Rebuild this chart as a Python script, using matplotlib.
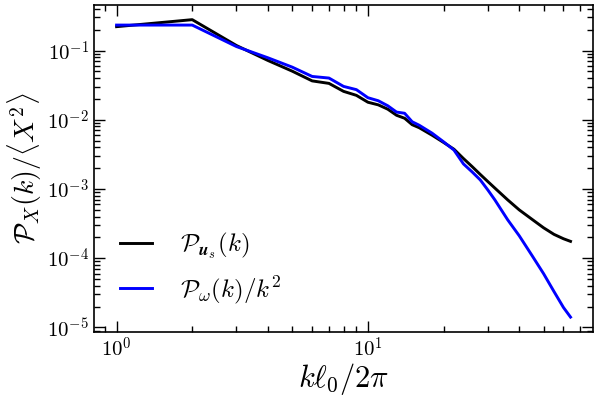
import numpy as np
import matplotlib
matplotlib.use("Agg")
import matplotlib.pyplot as plt
from matplotlib.ticker import FuncFormatter, NullFormatter

plt.rcParams['mathtext.fontset'] = 'cm'
plt.rcParams['font.family'] = 'serif'
plt.rcParams['font.serif'] = ['DejaVu Serif']

# spectres
k = [1, 2, 3, 4, 5, 6, 7, 8, 9, 10, 11, 12, 13, 14, 15, 16,
     18, 20, 22, 24, 26, 28, 30, 32, 36, 40, 45, 50, 55, 60, 64]
P_us = [0.221, 0.279, 0.118, 0.0718, 0.0503, 0.0364, 0.0335, 0.0257, 0.0225,
        0.0179, 0.0164, 0.0142, 0.0116, 0.0105, 0.00848, 0.00767,
        0.00598, 0.00470, 0.00375, 0.00275, 0.00210, 0.00162, 0.00128,
        0.00103, 0.000695, 0.000499, 0.000364, 0.000275, 0.000221,
        0.000191, 0.000175]
P_w = [0.233, 0.233, 0.114, 0.0785, 0.0575, 0.0422, 0.0400, 0.0303, 0.0272,
       0.0208, 0.0188, 0.0159, 0.0129, 0.0124, 0.00935, 0.00833,
       0.00640, 0.00480, 0.00365, 0.00230, 0.00176, 0.00135, 0.000968,
       0.000695, 0.000358, 0.000211, 0.000109, 5.98e-5, 3.3e-5,
       1.94e-5, 1.41e-5]

fig = plt.figure(figsize=(5.98, 3.99), dpi=100)
ax = fig.add_axes([0.157, 0.168, 0.835, 0.82])

ax.loglog(k, P_us, color='black', lw=2.1, label=r'$\mathcal{P}_{\boldsymbol{u}_s}(k)$')
ax.loglog(k, P_w, color='blue', lw=2.1, label=r'$\mathcal{P}_{\omega}(k)/k^2$')

# labels de ticks en Computer Modern
fmt = FuncFormatter(lambda v, pos: r'$10^{%d}$' % int(round(np.log10(v))))
for axis in (ax.xaxis, ax.yaxis):
    axis.set_major_formatter(fmt)
    axis.set_minor_formatter(NullFormatter())

ax.set_xlabel(r'$k\ell_0/2\pi$', fontsize=22, labelpad=0)
ax.set_ylabel(r'$\mathcal{P}_X(k)/\langle X^2\rangle$', fontsize=20, labelpad=2)

ax.tick_params(which='both', direction='in', top=True, right=True, labelsize=15, width=1.0)
ax.tick_params(which='major', length=8)
ax.tick_params(which='minor', length=4)
for s in ax.spines.values():
    s.set_linewidth(1.2)

ax.legend(loc='lower left', frameon=False, fontsize=18, handlelength=1.3,
          handletextpad=1.1, borderaxespad=0.0, labelspacing=0.5,
          bbox_to_anchor=(0.032, 0.05))

fig.savefig('out.png', dpi=100)
